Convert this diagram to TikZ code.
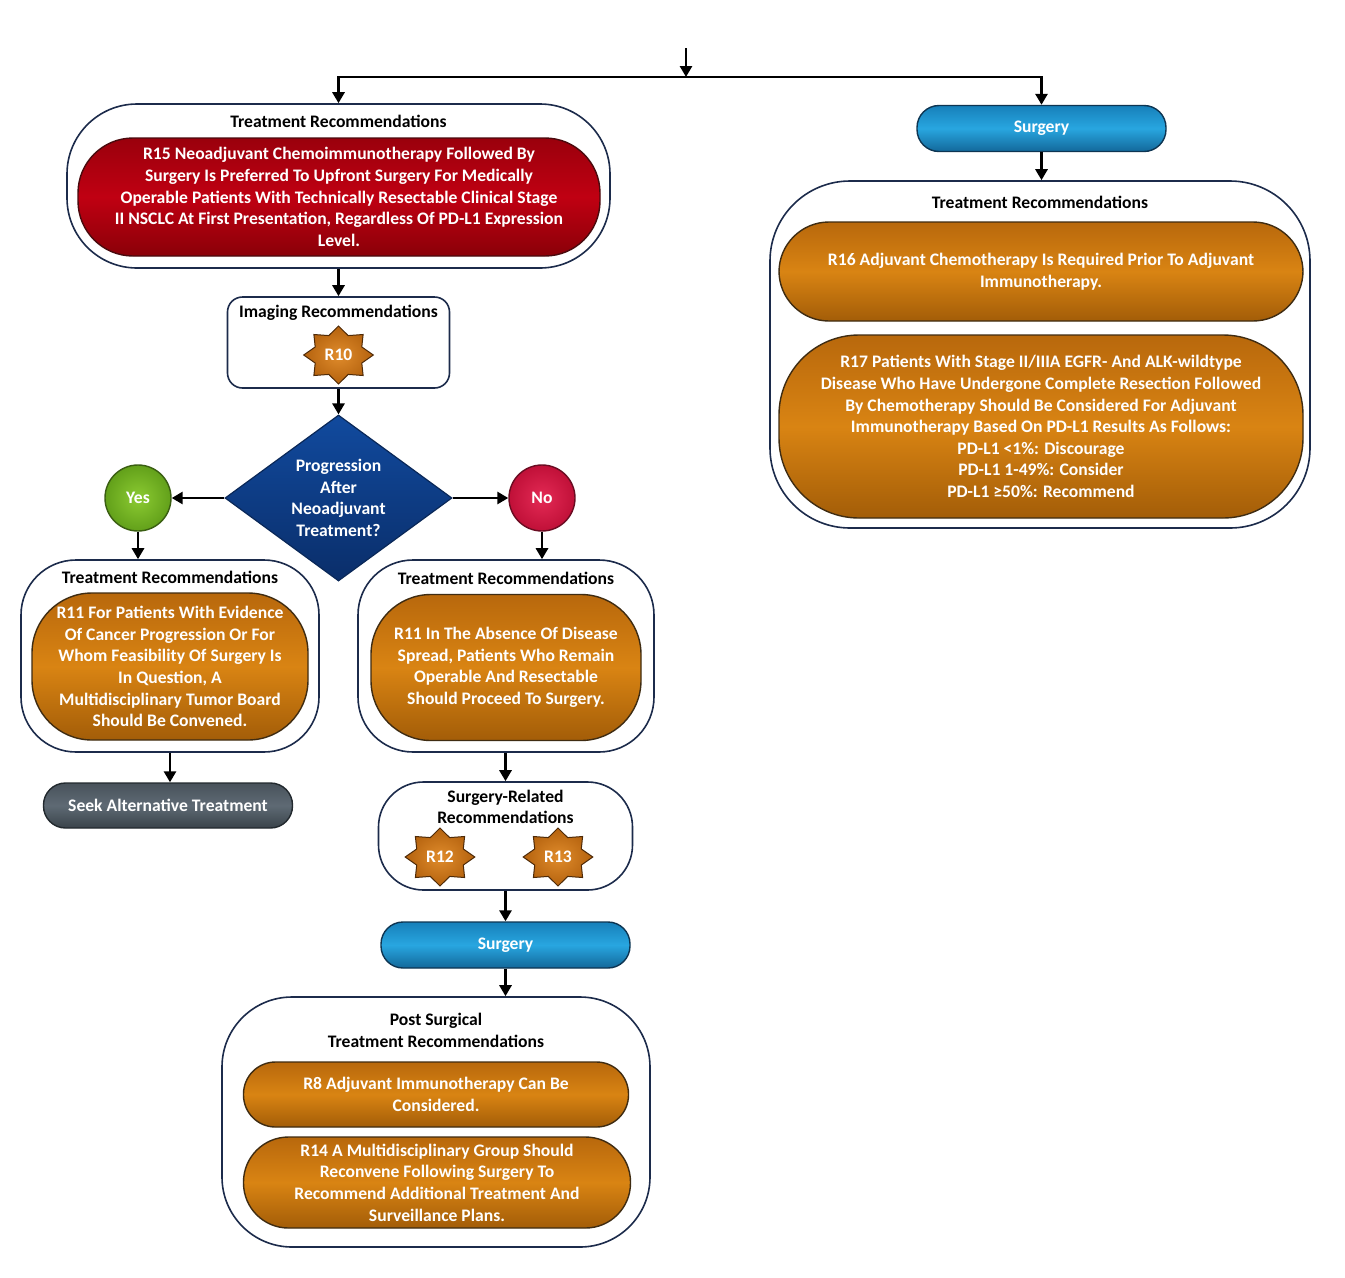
\documentclass[tikz,border=0pt]{standalone}
\usepackage{fontspec}
\setmainfont{Carlito}
\usetikzlibrary{shapes.geometric,arrows.meta}
\definecolor{navyline}{HTML}{1C2B4B}
\definecolor{orgTop}{HTML}{B8680C}
\definecolor{orgMid}{HTML}{D98413}
\definecolor{orgBot}{HTML}{A35D08}
\definecolor{orgEdge}{HTML}{3F2C12}
\definecolor{redTop}{HTML}{9A000C}
\definecolor{redMid}{HTML}{C00012}
\definecolor{redBot}{HTML}{8A0008}
\definecolor{redEdge}{HTML}{4A0A0E}
\definecolor{bluTop}{HTML}{1780BA}
\definecolor{bluMid}{HTML}{28A6E0}
\definecolor{bluBot}{HTML}{13689A}
\definecolor{bluEdge}{HTML}{0E3552}
\definecolor{gryTop}{HTML}{48525B}
\definecolor{gryMid}{HTML}{5E6A74}
\definecolor{gryBot}{HTML}{3A434A}
\definecolor{gryEdge}{HTML}{22292E}
\definecolor{diaTop}{HTML}{114A9E}
\definecolor{diaBot}{HTML}{0A2E6A}
\definecolor{diaEdge}{HTML}{0A2858}
\definecolor{yesIn}{HTML}{8CCB32}
\definecolor{yesOut}{HTML}{62A01A}
\definecolor{yesEdge}{HTML}{3A5E12}
\definecolor{noIn}{HTML}{E42A55}
\definecolor{noOut}{HTML}{C01038}
\definecolor{noEdge}{HTML}{6A0C22}
\definecolor{starIn}{HTML}{E08C2C}
\definecolor{starOut}{HTML}{B4620E}
\definecolor{starEdge}{HTML}{4E2A08}
\begin{document}
\begin{tikzpicture}[x=1pt,y=-1pt,
  txt/.style={font={\fontsize{17.6}{21.6}\selectfont\bfseries}, align=center},
  title/.style={txt, text=black, inner sep=0pt},
  frame/.style={rectangle, draw=navyline, line width=1.6pt, fill=white, rounded corners=#1, inner sep=0pt},
  orangepill/.style={txt, text=white, rectangle, rounded corners=#1, draw=orgEdge, line width=1.4pt,
    top color=orgTop, bottom color=orgBot, middle color=orgMid, inner sep=0pt},
  redpill/.style={txt, text=white, rectangle, rounded corners=#1, draw=redEdge, line width=1.4pt,
    top color=redTop, bottom color=redBot, middle color=redMid, inner sep=0pt},
  bluepill/.style={txt, text=white, rectangle, rounded corners=22pt, draw=bluEdge, line width=1.4pt,
    top color=bluTop, bottom color=bluBot, middle color=bluMid, inner sep=0pt,
    minimum width=249pt, minimum height=46pt},
  greypill/.style={txt, text=white, rectangle, rounded corners=22pt, draw=gryEdge, line width=1.4pt,
    top color=gryTop, bottom color=gryBot, middle color=gryMid, inner sep=0pt,
    minimum width=249pt, minimum height=45pt},
  decision/.style={txt, text=white, diamond, aspect=1.37, minimum width=227pt, minimum height=166pt,
    inner sep=0pt, draw=diaEdge, line width=1.2pt, top color=diaTop, bottom color=diaBot},
  yesball/.style={txt, text=white, circle, minimum size=66pt, inner sep=0pt, draw=yesEdge,
    line width=1.4pt, inner color=yesIn, outer color=yesOut},
  noball/.style={txt, text=white, circle, minimum size=66pt, inner sep=0pt, draw=noEdge,
    line width=1.4pt, inner color=noIn, outer color=noOut},
  recstar/.style={txt, text=white, star, star points=8, star point ratio=1.38, minimum size=58pt,
    inner sep=0pt, draw=starEdge, line width=1pt, inner color=starIn, outer color=starOut, xscale=1.2},
  arr/.style={-{Triangle[length=11pt,width=12pt]}, line width=2.8pt, black},
]
\useasboundingbox (0,0) rectangle (1345,1278);

% ---------- left column, top ----------
\node[frame=70pt, minimum width=543pt, minimum height=164pt] (tr1) at (338.5,186) {};
\node[title] (tr1t) at (338.5,121) {Treatment Recommendations};
\node[redpill=55pt, minimum width=522pt, minimum height=118pt] (r15) at (339,197)
  {R15 Neoadjuvant Chemoimmunotherapy Followed By\\Surgery Is Preferred To Upfront Surgery For Medically\\Operable Patients With Technically Resectable Clinical Stage\\II NSCLC At First Presentation, Regardless Of PD-L1 Expression\\Level.};

\node[frame=15pt, minimum width=222pt, minimum height=91pt] (img) at (338.5,342.5) {};
\node[title] (imgt) at (338.5,313) {Imaging Recommendations};
\node[recstar] (r10) at (338.5,355) {\scalebox{0.83}[1]{R10}};

\node[decision] (dec) at (338.5,498) {Progression\\After\\Neoadjuvant\\Treatment?};
\node[yesball] (yes) at (138,498) {Yes};
\node[noball] (no) at (542,498) {No};

% ---------- yes branch ----------
\node[frame=55pt, minimum width=298pt, minimum height=192pt] (lbox) at (170,656) {};
\node[title] (lboxt) at (170,577) {Treatment Recommendations};
\node[orangepill=60pt, minimum width=276pt, minimum height=147pt] (lr11) at (170,666.5)
  {R11 For Patients With Evidence\\Of Cancer Progression Or For\\Whom Feasibility Of Surgery Is\\In Question, A\\Multidisciplinary Tumor Board\\Should Be Convened.};
\node[greypill] (seek) at (168,805.5) {Seek Alternative Treatment};

% ---------- no branch ----------
\node[frame=55pt, minimum width=296pt, minimum height=192pt] (mbox) at (506,656) {};
\node[title] (mboxt) at (506,578) {Treatment Recommendations};
\node[orangepill=60pt, minimum width=270pt, minimum height=146pt] (mr11) at (506,667.5)
  {R11 In The Absence Of Disease\\Spread, Patients Who Remain\\Operable And Resectable\\Should Proceed To Surgery.};

\node[frame=45pt, minimum width=254pt, minimum height=108pt] (srel) at (505.5,836) {};
\node[title] (srelt) at (505.5,807) {Surgery-Related\\Recommendations};
\node[recstar] (r12) at (440,857) {\scalebox{0.83}[1]{R12}};
\node[recstar] (r13) at (558,857) {\scalebox{0.83}[1]{R13}};

\node[bluepill] (surg2) at (505.5,945) {Surgery};

\node[frame=70pt, minimum width=428pt, minimum height=250pt] (post) at (436,1122) {};
\node[title] (postt) at (436,1030.5) {Post Surgical\\Treatment Recommendations};
\node[orangepill=32pt, minimum width=385pt, minimum height=65pt] (r8) at (436,1094.5)
  {R8 Adjuvant Immunotherapy Can Be\\Considered.};
\node[orangepill=45pt, minimum width=387pt, minimum height=91pt] (r14) at (437,1182.5)
  {R14 A Multidisciplinary Group Should\\Reconvene Following Surgery To\\Recommend Additional Treatment And\\Surveillance Plans.};

% ---------- right column ----------
\node[bluepill] (surg1) at (1041.5,128.5) {Surgery};
\node[frame=80pt, minimum width=540pt, minimum height=347pt] (rbox) at (1040,354.5) {};
\node[title] (rboxt) at (1040,202) {Treatment Recommendations};
\node[orangepill=50pt, minimum width=524pt, minimum height=99pt] (r16) at (1041,271.5)
  {R16 Adjuvant Chemotherapy Is Required Prior To Adjuvant\\Immunotherapy.};
\node[orangepill=80pt, minimum width=524pt, minimum height=183pt] (r17) at (1041,426.5)
  {R17 Patients With Stage II/IIIA EGFR- And ALK-wildtype\\Disease Who Have Undergone Complete Resection Followed\\By Chemotherapy Should Be Considered For Adjuvant\\Immunotherapy Based On PD-L1 Results As Follows:\\PD-L1 <1\%: Discourage\\PD-L1 1-49\%: Consider\\PD-L1 ≥50\%: Recommend};

% ---------- connectors ----------
\coordinate (top) at (686,48);
\coordinate (split) at (686,77);
\draw[arr] (top) -- (split);
\draw[arr] (split) -| (tr1.north);
\draw[arr] (split) -| (surg1.north);
\draw[arr] (tr1.south) -- (img.north);
\draw[arr] (img.south) -- (dec.north);
\draw[arr] (dec.west) -- (yes.east);
\draw[arr] (dec.east) -- (no.west);
\draw[arr] (yes.south) -- (yes.south |- lbox.north);
\draw[arr] (no.south) -- (no.south |- mbox.north);
\draw[arr] (lbox.south) -- (lbox.south |- seek.north);
\draw[arr] (srel.north |- mbox.south) -- (srel.north);
\draw[arr] (srel.south) -- (surg2.north);
\draw[arr] (surg2.south) -- (surg2.south |- post.north);
\draw[arr] (surg1.south) -- (surg1.south |- rbox.north);
\end{tikzpicture}
\end{document}
